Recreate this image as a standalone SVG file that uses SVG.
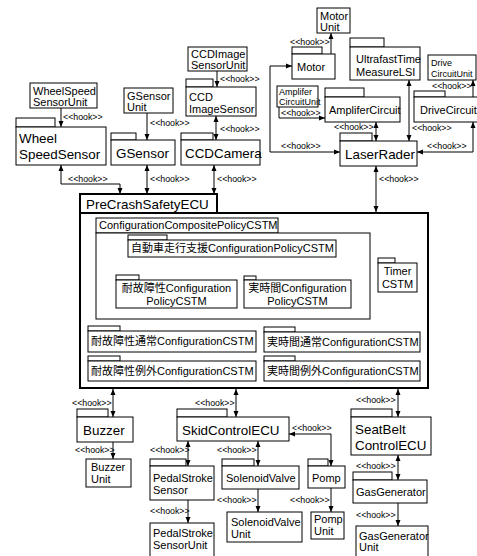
<svg xmlns="http://www.w3.org/2000/svg" width="477" height="556" viewBox="0 0 477 556">
<style>
.b{fill:#fff;stroke:#000;stroke-width:1}
.k{fill:#fff;stroke:#000;stroke-width:2}
text{font-family:"Liberation Sans","Noto Sans CJK JP",sans-serif;fill:#000}
.L{font-size:13.4px}
.M{font-size:11px}
.S{font-size:9px}
.h{font-size:8.8px}
.c{fill:none;stroke:#000;stroke-width:1}
.bi{marker-start:url(#ar);marker-end:url(#ar)}
.un{marker-end:url(#ar)}
.mid{text-anchor:middle}
</style>
<defs>
<marker id="ar" viewBox="0 0 6 6" refX="6" refY="3" markerWidth="6" markerHeight="6" markerUnits="userSpaceOnUse" orient="auto-start-reverse">
<path d="M0,0.5 L6,3 L0,5.5 z" fill="#000"/>
</marker>
</defs>
<rect width="477" height="556" fill="#fff"/>

<g id="connectors">
<path class="c un" d="M61,108 V127"/>
<path class="c un" d="M147,113 V140"/>
<path class="c un" d="M217,71 V87"/>
<path class="c bi" d="M216,116 V140"/>
<path class="c un" d="M331,54 V33"/>
<path class="c bi" d="M340,152 H270 V66 H292"/>
<path class="c un" d="M279,107 V118 H325"/>
<path class="c bi" d="M376,122 V141"/>
<path class="c bi" d="M409,80 V141"/>
<path class="c un" d="M473,97 V80"/>
<path class="c bi" d="M473,122 V152 H417"/>
<path class="c bi" d="M61,165 V184 H120 V194"/>
<path class="c bi" d="M147,165 V194"/>
<path class="c bi" d="M214,165 V194"/>
<path class="c bi" d="M376,166 V212"/>
<path class="c" d="M233,257 V269 M152,269 H303"/>
<path class="c un" d="M152,269 V280"/>
<path class="c un" d="M303,269 V280"/>
<path class="c bi" d="M113,389 V417"/>
<path class="c un" d="M113,442 V459"/>
<path class="c bi" d="M236,389 V417"/>
<path class="c bi" d="M398,389 V417"/>
<path class="c bi" d="M188,441 V466"/>
<path class="c un" d="M188,500 V523"/>
<path class="c bi" d="M258,441 V466"/>
<path class="c un" d="M258,489 V512"/>
<path class="c bi" d="M289,434 H331 V466"/>
<path class="c un" d="M331,488 V512"/>
<path class="c bi" d="M398,455 V480"/>
<path class="c un" d="M398,503 V526"/>

<text class="h" x="63" y="120">&lt;&lt;hook&gt;&gt;</text>
<text class="h" x="150" y="126">&lt;&lt;hook&gt;&gt;</text>
<text class="h" x="220" y="82">&lt;&lt;hook&gt;&gt;</text>
<text class="h" x="220" y="132">&lt;&lt;hook&gt;&gt;</text>
<text class="h" x="290" y="45">&lt;&lt;hook&gt;&gt;</text>
<text class="h" x="281" y="149">&lt;&lt;hook&gt;&gt;</text>
<text class="h" x="281" y="116">&lt;&lt;hook&gt;&gt;</text>
<text class="h" x="334" y="130">&lt;&lt;hook&gt;&gt;</text>
<text class="h" x="412" y="131">&lt;&lt;hook&gt;&gt;</text>
<text class="h" x="432" y="89">&lt;&lt;hook&gt;&gt;</text>
<text class="h" x="427" y="149">&lt;&lt;hook&gt;&gt;</text>
<text class="h" x="68" y="182">&lt;&lt;hook&gt;&gt;</text>
<text class="h" x="150" y="182">&lt;&lt;hook&gt;&gt;</text>
<text class="h" x="217" y="182">&lt;&lt;hook&gt;&gt;</text>
<text class="h" x="379" y="182">&lt;&lt;hook&gt;&gt;</text>
<text class="h" x="72" y="406">&lt;&lt;hook&gt;&gt;</text>
<text class="h" x="75" y="453">&lt;&lt;hook&gt;&gt;</text>
<text class="h" x="195" y="406">&lt;&lt;hook&gt;&gt;</text>
<text class="h" x="356" y="403">&lt;&lt;hook&gt;&gt;</text>
<text class="h" x="150" y="453">&lt;&lt;hook&gt;&gt;</text>
<text class="h" x="150" y="514">&lt;&lt;hook&gt;&gt;</text>
<text class="h" x="217" y="453">&lt;&lt;hook&gt;&gt;</text>
<text class="h" x="217" y="503">&lt;&lt;hook&gt;&gt;</text>
<text class="h" x="292" y="431">&lt;&lt;hook&gt;&gt;</text>
<text class="h" x="290" y="503">&lt;&lt;hook&gt;&gt;</text>
<text class="h" x="356" y="469">&lt;&lt;hook&gt;&gt;</text>
<text class="h" x="356" y="518">&lt;&lt;hook&gt;&gt;</text>
</g>

<g id="MotorUnit"><rect class="b" x="317" y="8" width="33" height="25"/><text class="M" x="320" y="20">Motor</text><text class="M" x="320" y="31">Unit</text></g>
<g id="Motor"><rect class="b" x="292" y="47" width="30" height="7"/><rect class="b" x="292" y="54" width="43" height="25"/><text class="M" x="297" y="71">Motor</text></g>
<g id="UltrafastTimeMeasureLSI"><rect class="b" x="350" y="38" width="34" height="9"/><rect class="b" x="350" y="47" width="70" height="33"/><text class="M" x="356" y="63">UltrafastTime</text><text class="M" x="356" y="76">MeasureLSI</text></g>
<g id="DriveCircuitUnit"><rect class="b" x="428" y="55" width="48" height="25"/><text class="S" x="431" y="66">Drive</text><text class="S" x="431" y="77">CircuitUnit</text></g>
<g id="AmpliferCircuitUnit"><rect class="b" x="277" y="86" width="41" height="21"/><text class="S" x="279" y="95">Amplifer</text><text class="S" x="279" y="105">CircuitUnit</text></g>
<g id="AmpliferCircuit"><rect class="b" x="325" y="88" width="39" height="9"/><rect class="b" x="325" y="97" width="75" height="25"/><text class="M" x="329" y="114">AmpliferCircuit</text></g>
<g id="DriveCircuit"><rect class="b" x="414" y="91" width="31" height="6"/><rect class="b" x="414" y="97" width="70" height="25"/><text class="M" x="420" y="114">DriveCircuit</text></g>
<g id="LaserRader"><rect class="b" x="340" y="133" width="32" height="8"/><rect class="b" x="340" y="141" width="77" height="25"/><text class="L" x="345" y="159">LaserRader</text></g>

<g id="WheelSpeedSensorUnit"><rect class="b" x="30" y="83" width="67" height="25"/><text class="M" x="33" y="95">WheelSpeed</text><text class="M" x="33" y="106">SensorUnit</text></g>
<g id="WheelSpeedSensor"><rect class="b" x="16" y="118" width="39" height="9"/><rect class="b" x="16" y="127" width="90" height="38"/><text class="L" x="19" y="143">Wheel</text><text class="L" x="19" y="159">SpeedSensor</text></g>
<g id="GSensorUnit"><rect class="b" x="124" y="88" width="49" height="25"/><text class="M" x="127" y="100">GSensor</text><text class="M" x="127" y="111">Unit</text></g>
<g id="GSensor"><rect class="b" x="111" y="133" width="25" height="7"/><rect class="b" x="111" y="140" width="64" height="25"/><text class="L" x="116" y="158">GSensor</text></g>
<g id="CCDImageSensorUnit"><rect class="b" x="188" y="47" width="59" height="24"/><text class="M" x="191" y="58">CCDImage</text><text class="M" x="191" y="69">SensorUnit</text></g>
<g id="CCDImageSensor"><rect class="b" x="186" y="79" width="27" height="8"/><rect class="b" x="186" y="87" width="70" height="29"/><text class="M" x="189" y="101">CCD</text><text class="M" x="189" y="113">ImageSensor</text></g>
<g id="CCDCamera"><rect class="b" x="181" y="133" width="32" height="7"/><rect class="b" x="181" y="140" width="79" height="25"/><text class="L" x="185" y="158">CCDCamera</text></g>

<g id="PreCrashSafetyECU"><rect class="k" x="80" y="194" width="137" height="19"/><rect class="k" x="80" y="213" width="348" height="175"/><text class="L" x="86" y="209">PreCrashSafetyECU</text></g>
<g id="ConfigurationCompositePolicyCSTM"><rect class="b" x="96" y="218" width="182" height="15"/><rect class="b" x="96" y="233" width="274" height="86"/><text class="M" x="99" y="229">ConfigurationCompositePolicyCSTM</text></g>
<g id="AutoDrivePolicy"><rect class="b" x="128" y="235" width="39" height="5"/><rect class="b" x="128" y="240" width="208" height="17"/><text class="M" x="131" y="252">自動車走行支援ConfigurationPolicyCSTM</text></g>
<g id="FaultTolerantPolicy"><rect class="b" x="116" y="275" width="23" height="5"/><rect class="b" x="116" y="280" width="121" height="28"/><text class="M mid" x="176.5" y="292">耐故障性Configuration</text><text class="M mid" x="176.5" y="305">PolicyCSTM</text></g>
<g id="RealTimePolicy"><rect class="b" x="244" y="276" width="12" height="4"/><rect class="b" x="244" y="280" width="107" height="28"/><text class="M mid" x="297.5" y="292">実時間Configuration</text><text class="M mid" x="297.5" y="305">PolicyCSTM</text></g>
<g id="TimerCSTM"><rect class="b" x="378" y="258" width="17" height="5"/><rect class="b" x="378" y="263" width="39" height="29"/><text class="M mid" x="397.5" y="275">Timer</text><text class="M mid" x="397.5" y="288">CSTM</text></g>
<g id="FaultNormal"><rect class="b" x="88" y="326" width="32" height="5"/><rect class="b" x="88" y="331" width="168" height="21"/><text class="M" x="91" y="345">耐故障性通常ConfigurationCSTM</text></g>
<g id="FaultException"><rect class="b" x="88" y="356" width="32" height="5"/><rect class="b" x="88" y="361" width="168" height="20"/><text class="M" x="91" y="375">耐故障性例外ConfigurationCSTM</text></g>
<g id="RealNormal"><rect class="b" x="264" y="327" width="31" height="5"/><rect class="b" x="264" y="332" width="156" height="20"/><text class="M" x="267" y="346">実時間通常ConfigurationCSTM</text></g>
<g id="RealException"><rect class="b" x="264" y="356" width="31" height="5"/><rect class="b" x="264" y="361" width="156" height="20"/><text class="M" x="267" y="375">実時間例外ConfigurationCSTM</text></g>

<g id="Buzzer"><rect class="b" x="77" y="409" width="31" height="8"/><rect class="b" x="77" y="417" width="56" height="25"/><text class="L" x="83" y="435">Buzzer</text></g>
<g id="BuzzerUnit"><rect class="b" x="86" y="459" width="45" height="28"/><text class="M" x="91" y="471">Buzzer</text><text class="M" x="91" y="483">Unit</text></g>
<g id="SkidControlECU"><rect class="b" x="177" y="409" width="50" height="8"/><rect class="b" x="177" y="417" width="112" height="24"/><text class="L" x="182" y="435">SkidControlECU</text></g>
<g id="SeatBeltControlECU"><rect class="b" x="351" y="409" width="41" height="8"/><rect class="b" x="351" y="417" width="80" height="38"/><text class="L" x="355" y="434">SeatBelt</text><text class="L" x="355" y="450">ControlECU</text></g>
<g id="PedalStrokeSensor"><rect class="b" x="150" y="459" width="36" height="7"/><rect class="b" x="150" y="466" width="64" height="34"/><text class="M" x="153" y="482">PedalStroke</text><text class="M" x="153" y="494">Sensor</text></g>
<g id="PedalStrokeSensorUnit"><rect class="b" x="150" y="523" width="64" height="34"/><text class="M" x="153" y="537">PedalStroke</text><text class="M" x="153" y="549">SensorUnit</text></g>
<g id="SolenoidValve"><rect class="b" x="222" y="459" width="32" height="7"/><rect class="b" x="222" y="466" width="77" height="23"/><text class="M" x="226" y="482">SolenoidValve</text></g>
<g id="SolenoidValveUnit"><rect class="b" x="227" y="512" width="75" height="30"/><text class="M" x="231" y="526">SolenoidValve</text><text class="M" x="231" y="538">Unit</text></g>
<g id="Pomp"><rect class="b" x="308" y="459" width="20" height="7"/><rect class="b" x="308" y="466" width="37" height="22"/><text class="M" x="312" y="482">Pomp</text></g>
<g id="PompUnit"><rect class="b" x="311" y="512" width="33" height="27"/><text class="M" x="314" y="523">Pomp</text><text class="M" x="314" y="535">Unit</text></g>
<g id="GasGenerator"><rect class="b" x="353" y="472" width="39" height="8"/><rect class="b" x="353" y="480" width="74" height="23"/><text class="M" x="356" y="496">GasGenerator</text></g>
<g id="GasGeneratorUnit"><rect class="b" x="356" y="526" width="72" height="32"/><text class="M" x="359" y="540">GasGenerator</text><text class="M" x="359" y="551">Unit</text></g>
</svg>
